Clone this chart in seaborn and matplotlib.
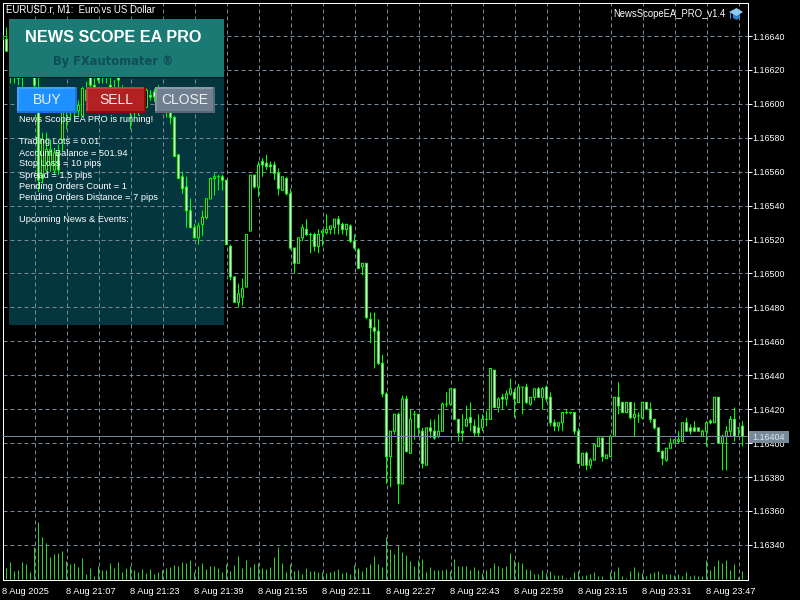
import pandas as pd
import matplotlib
matplotlib.use('Agg')
import matplotlib.pyplot as plt
from matplotlib.patches import Rectangle, Polygon
import seaborn as sns

# prices are kept as points above 1.16000, ten bars per row
bar_high = [644,645,625,625,623,622,626,638,638,623,
            583,583,579,574,576,602,605,608,609,602,
            610,613,620,615,620,620,621,617,614,626,
            611,608,602,602,602,606,609,608,609,611,
            608,605,602,593,570,560,557,544,529,530,
            537,544,556,559,558,558,555,517,498,494,
            497,523,558,558,566,568,570,566,566,562,
            557,557,550,515,521,529,532,524,524,526,
            526,535,528,532,534,530,529,529,523,515,
            506,506,477,477,473,452,430,407,417,418,
            428,428,420,419,417,409,409,414,414,417,
            424,430,432,432,414,417,422,424,414,417,
            417,419,444,443,427,429,431,438,432,435,
            433,435,427,432,433,433,434,430,414,412,
            418,420,418,418,409,394,395,391,399,403,
            403,393,405,427,436,424,424,424,424,418,
            424,424,424,414,409,396,397,403,402,407,
            412,415,411,413,409,408,413,414,427,427,
            405,410,416,421,409,413]
bar_open = [640,638,622,620,620,619,623,632,629,605,
            556,561,564,561,571,579,599,602,605,596,
            593,608,617,611,618,619,619,611,609,620,
            605,603,599,599,599,598,598,605,607,608,
            605,601,599,592,570,557,551,537,527,521,
            529,533,544,556,557,557,555,516,498,483,
            486,492,525,558,551,566,565,564,564,559,
            549,556,547,515,506,521,526,523,523,516,
            524,524,526,527,532,529,526,528,519,514,
            504,506,473,468,466,447,429,392,407,417,
            376,426,394,417,417,407,387,409,407,404,
            407,423,423,432,414,407,410,415,410,409,
            409,414,414,443,421,427,426,429,430,424,
            433,433,423,427,432,427,433,427,412,410,
            412,418,418,418,407,387,394,387,390,398,
            403,391,392,404,427,424,418,424,415,416,
            415,424,420,414,409,395,390,397,400,401,
            401,412,409,409,409,404,407,413,412,427,
            400,404,407,414,409,410]
bar_close = [638,631,618,616,615,616,620,622,611,555,
             579,573,573,571,561,599,602,596,599,599,
             609,602,611,605,614,616,617,607,603,614,
             601,596,595,595,596,602,608,604,604,602,
             597,596,592,569,556,550,537,527,521,528,
             533,544,556,557,557,555,517,498,483,488,
             491,523,558,551,564,564,563,563,559,550,
             557,547,515,506,521,527,523,523,516,523,
             525,526,528,532,529,526,529,519,515,503,
             506,474,468,466,447,429,392,407,417,376,
             426,395,414,417,409,388,409,407,403,407,
             423,423,432,414,406,406,414,412,406,406,
             414,414,444,421,426,426,429,432,426,433,
             433,424,427,432,427,432,426,412,410,412,
             418,418,418,407,388,394,387,390,399,403,
             392,393,404,427,422,418,424,415,417,416,
             424,420,414,409,395,391,397,400,402,402,
             412,407,407,407,407,407,412,412,427,400,
             404,407,414,404,409,404]
bar_low = [635,631,612,612,611,610,618,618,608,548,
           553,560,560,558,558,572,585,590,592,593,
           592,599,605,599,612,612,612,602,599,607,
           596,595,585,592,593,598,598,602,601,599,
           595,592,588,569,556,547,527,527,521,517,
           522,532,544,546,549,549,517,496,483,480,
           481,492,525,550,545,557,561,559,555,546,
           549,546,514,500,506,519,522,512,513,512,
           516,523,523,523,523,523,522,518,514,503,
           499,473,459,444,446,427,376,374,405,364,
           376,395,394,402,404,385,387,403,402,403,
           407,421,422,414,401,401,410,407,404,404,
           407,410,414,421,418,420,422,428,415,424,
           417,423,422,425,427,420,424,410,407,407,
           407,417,417,405,388,387,384,385,390,398,
           389,391,392,404,417,418,418,414,404,412,
           414,420,412,408,395,387,389,397,400,400,
           401,407,405,407,407,404,398,411,412,400,
           384,384,404,401,404,398]

# tick volume of each minute
tick_volume = [6,11,17,8,9,17,15,7,32,57,
               42,36,22,25,26,28,18,15,16,12,
               21,5,11,3,13,9,9,16,11,17,
               7,11,13,9,7,10,6,10,5,7,
               9,11,12,14,13,17,16,19,7,13,
               16,10,13,13,11,7,15,8,14,23,
               11,19,12,15,16,11,10,12,22,32,
               16,7,15,8,9,5,11,8,8,7,
               7,6,7,8,10,6,7,5,14,11,
               8,12,15,23,15,12,42,30,25,34,
               27,24,18,13,19,20,7,12,9,9,
               9,10,8,20,13,13,13,9,12,9,
               6,9,11,16,13,11,13,26,19,17,
               16,10,9,5,5,9,6,8,4,4,
               4,1,2,7,8,3,4,5,7,3,
               3,0,7,8,12,3,1,8,12,7,
               6,3,6,7,8,5,5,5,4,5,
               3,7,3,4,3,3,19,9,13,19,
               16,19,9,15,2,8]

time_labels = ['8 Aug 2025','8 Aug 21:07','8 Aug 21:23','8 Aug 21:39','8 Aug 21:55','8 Aug 22:11','8 Aug 22:27',
               '8 Aug 22:43','8 Aug 22:59','8 Aug 23:15','8 Aug 23:31','8 Aug 23:47']
price_ticks = [1.16340,1.16360,1.16380,1.16400,1.16420,1.16440,1.16460,1.16480,1.16500,1.16520,1.16540,1.16560,
               1.16580,1.16600,1.16620,1.16640]
last_price = 1.16404

info_lines = ['News Scope EA PRO is running!','Trading Lots = 0.01','Account Balance = 501.94','Stop Loss = 10 pips',
              'Spread = 1.5 pips','Pending Orders Count = 1','Pending Orders Distance = 7 pips','Upcoming News & Events:']
info_rows = [120,142,153,164,175,186,197,219]

candles = pd.DataFrame({'minute': range(len(bar_open)), 'open': bar_open, 'high': bar_high, 'low': bar_low, 'close': bar_close})
candles[['open','high','low','close']] = 1.16 + candles[['open','high','low','close']] / 1e5
candles['volume'] = tick_volume
candles['top'] = candles[['open', 'close']].max(axis=1)
candles['bottom'] = candles[['open', 'close']].min(axis=1)

SLATE = '#778899'
GREEN = '#00FF00'
SHELL = 0.000003  # half a pixel in price

sns.set_theme(style='dark', rc={'figure.facecolor': 'black', 'axes.facecolor': 'none', 'savefig.facecolor': 'black',
                                'axes.edgecolor': 'white', 'xtick.color': 'white', 'ytick.color': 'white'})
plt.rcParams['font.family'] = ['Liberation Sans', 'DejaVu Sans']

fig = plt.figure(figsize=(8, 6), dpi=100)
W, H = 800, 600
pos = [2.5 / W, 1 - 579.5 / H, 745 / W, 577 / H]

def box(x0, y0, x1, y1, color, z):
    fig.add_artist(Rectangle((x0 / W, 1 - y1 / H), (x1 - x0) / W, (y1 - y0) / H, transform=fig.transFigure,
                             facecolor=color, edgecolor='none', zorder=z))

def label(x, y, s, size=6.7, color='white', ha='left', weight='normal', z=20, **kw):
    fig.text(x / W, 1 - y / H, s, fontsize=size, color=color, ha=ha, va='center', fontweight=weight, zorder=z, **kw)

# panel under the chart
box(9, 77, 224, 325, '#043640', -1)

ax_vol = fig.add_axes(pos, zorder=1)
sns.barplot(data=candles, x='minute', y='volume', native_scale=True, color='#32CD32', saturation=1,
            width=0.25, errorbar=None, linewidth=0, ax=ax_vol)
for p in ax_vol.patches:
    p.set_snap(False)
ax_vol.set_xlim(0, 186.25)
ax_vol.set_ylim(0, 577)
ax_vol.axis('off')

ax = fig.add_axes(pos, zorder=2)
ax.patch.set_visible(False)
ax.set_axisbelow(True)

# candles: green shell three pixels wide, one pixel of white or black inside
ax.vlines(candles['minute'], candles['low'], candles['high'], color=GREEN, linewidth=0.72, snap=False, zorder=3)
ax.bar(candles['minute'], candles['top'] - candles['bottom'] + 2 * SHELL, bottom=candles['bottom'] - SHELL,
       width=0.75, color=GREEN, linewidth=0, snap=False, zorder=4)
inner = candles[candles['top'] - candles['bottom'] > 2 * SHELL]
bear = inner['close'] <= inner['open']
ax.bar(inner['minute'], inner['top'] - inner['bottom'] - 2 * SHELL, bottom=inner['bottom'] + SHELL,
       width=0.25, color=['white' if b else 'black' for b in bear], linewidth=0, snap=False, zorder=5)
ax.axhline(last_price, color=SLATE, linewidth=0.72, zorder=6)

ax.set_xlim(0, 186.25)
ax.set_ylim(1.16 + 319.6 / 1e5, 1.16 + 659.75 / 1e5)
ax.set_xticks(range(0, 186, 16), time_labels)
ax.set_xticks(range(8, 186, 16), minor=True)
ax.set_yticks(price_ticks, [f'{p:.5f}' for p in price_ticks])
ax.yaxis.tick_right()
ax.grid(True, which='both', color=SLATE, linewidth=0.72, linestyle=(0, (4, 3)))
ax.tick_params(axis='x', which='major', length=3.2, width=0.72, pad=2.5, labelsize=6.7, labelcolor='white')
ax.tick_params(axis='x', which='minor', length=0)
ax.tick_params(axis='y', length=3.2, width=0.72, pad=0.5, labelsize=6.4, labelcolor='white')
for t in ax.get_xticklabels():
    t.set_horizontalalignment('left')
for s in ax.spines.values():
    s.set_color('white')
    s.set_linewidth(0.72)
ax.set_xlabel('')
ax.set_ylabel('')

# price tag of the bid line
box(749, 431, 789, 443, SLATE, 10)
label(752, 437, f'{last_price:.5f}', size=6.4, color='#dfe6ec', z=11)

# header
box(9, 19, 224, 77, '#1B7A73', 10)
box(9, 77, 224, 78, '#02161a', 10)
label(113.5, 37, 'NEWS SCOPE EA PRO', size=11.7, ha='center', weight='bold')
label(113, 61, 'By FXautomater ®', size=8.3, ha='center', weight='bold', color='#0F4E58', family='DejaVu Sans')

# buttons
for x0, name, light, main, dark in [(17, 'BUY', '#3FA2FF', '#1E90FF', '#1A74D0'),
                                    (86, 'SELL', '#C43C3C', '#B22222', '#8B0A0A'),
                                    (155, 'CLOSE', '#8D9BA9', '#708090', '#5A6875')]:
    box(x0, 87, x0 + 60, 113, dark, 12)
    box(x0, 87, x0 + 58, 111, light, 13)
    box(x0 + 2, 89, x0 + 58, 111, main, 14)
    label(x0 + 30, 100, name, size=10, ha='center', color='#f0f0f0')

for row, line in zip(info_rows, info_lines):
    label(19, row, line)

label(6, 10, 'EURUSD.r, M1:  Euro vs US Dollar', size=6.9)
label(725, 14, 'NewsScopeEA_PRO_v1.4', size=6.85, ha='right')

# little hat next to the expert name
def hat(points, color):
    fig.add_artist(Polygon([(x / W, 1 - y / H) for x, y in points], closed=True, transform=fig.transFigure,
                           facecolor=color, edgecolor='none', zorder=20))
hat([(733, 14), (740, 14), (740, 18), (736.5, 20), (733, 18)], '#2F7FC4')
hat([(729, 12), (736.5, 8), (743, 12), (736.5, 16)], '#8CC8F0')
hat([(730, 13), (731, 13), (731, 19), (730, 19)], '#2F7FC4')

plt.savefig('out.png', dpi=100)
